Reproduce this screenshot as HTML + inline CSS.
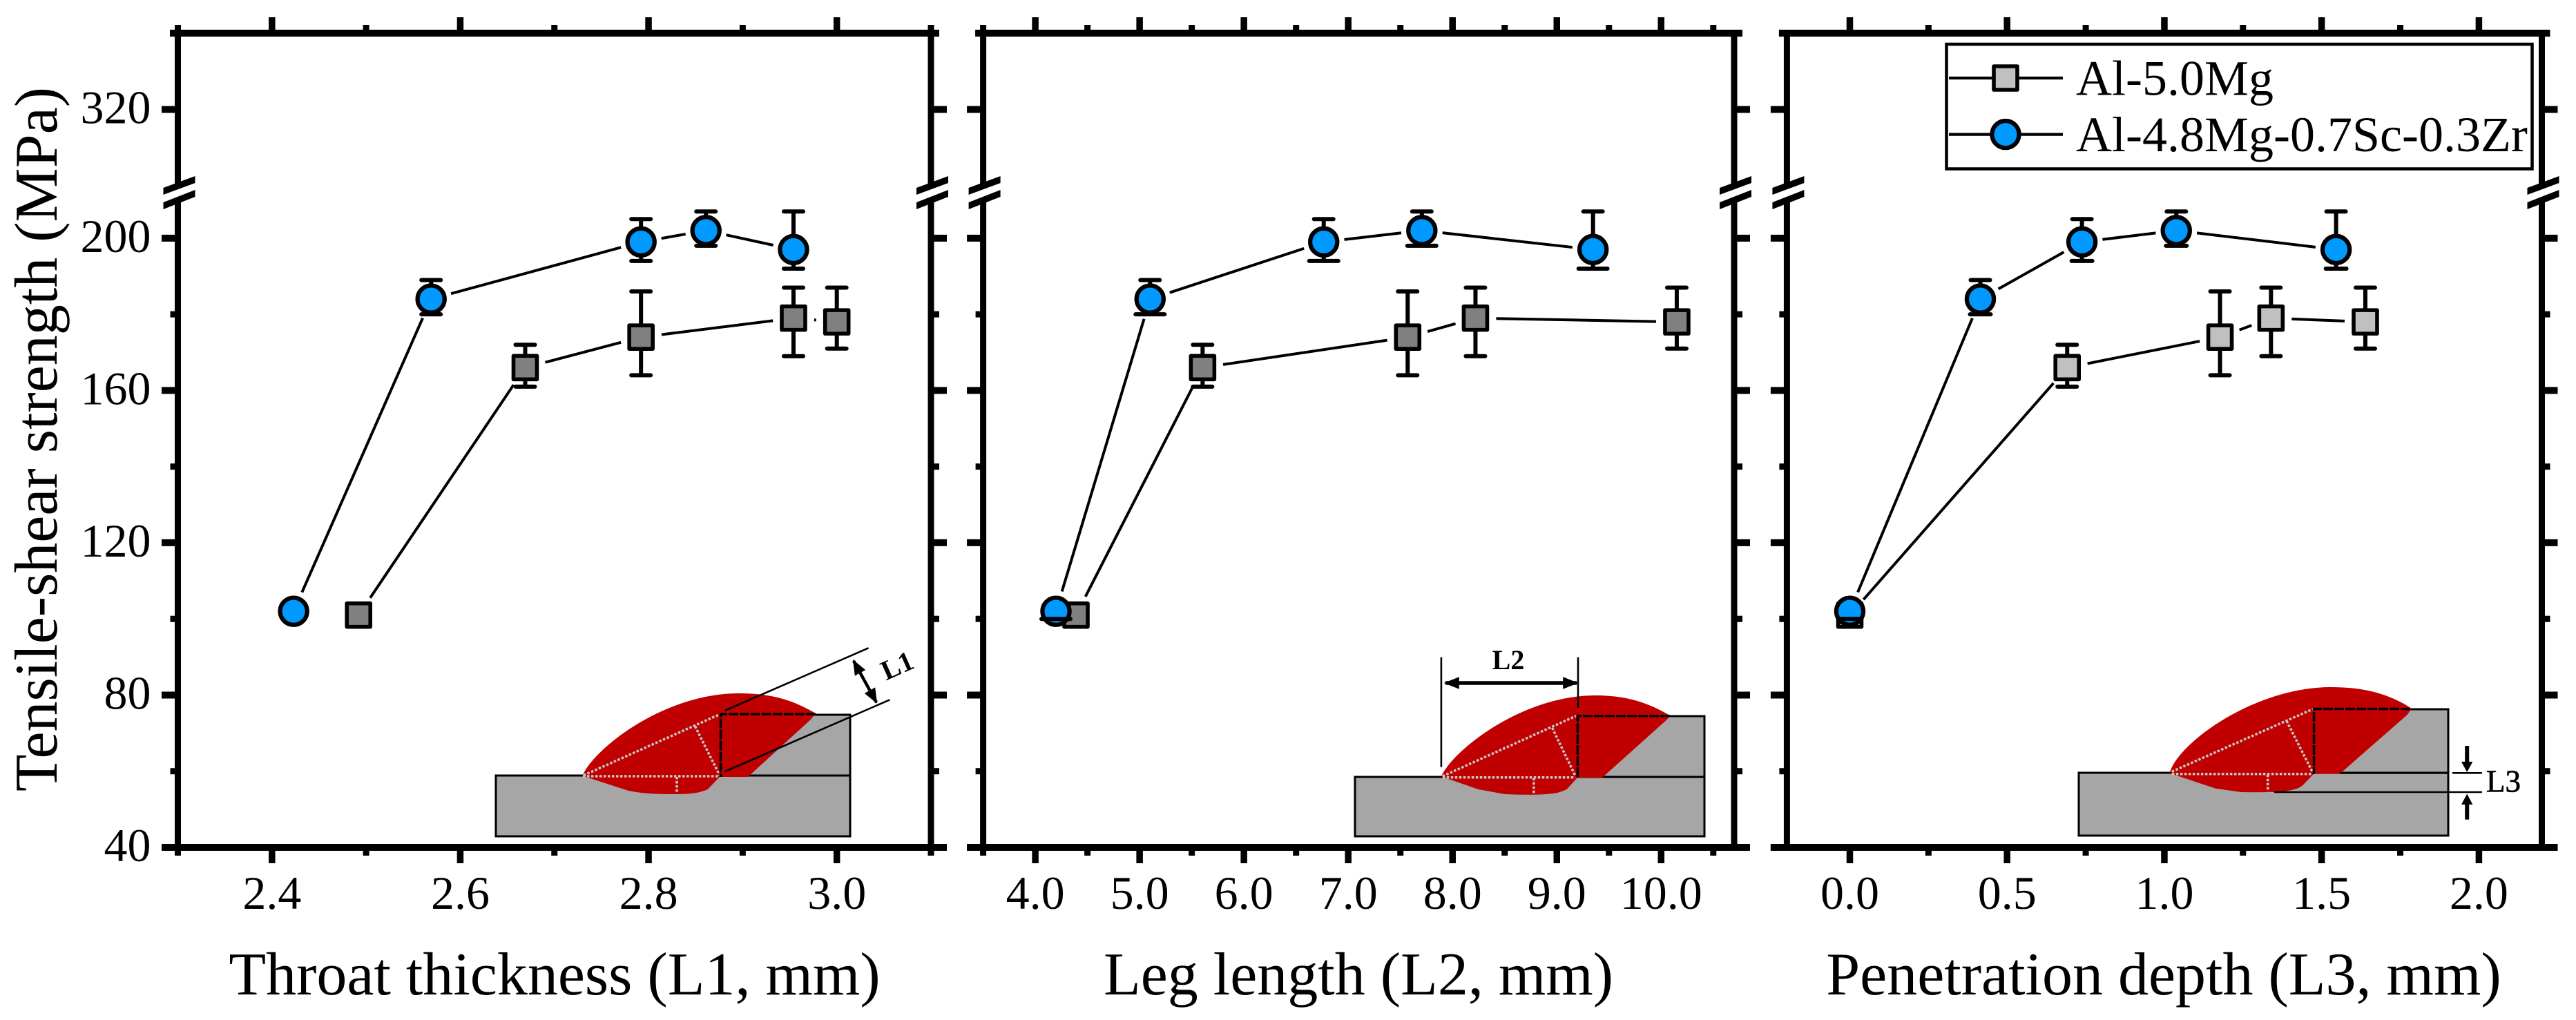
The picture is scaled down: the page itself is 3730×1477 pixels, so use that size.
<!DOCTYPE html>
<html lang="en">
<head>
<meta charset="utf-8">
<title>Tensile-shear strength vs weld geometry</title>
<style>
html,body{margin:0;padding:0;background:#fff;width:3730px;height:1477px;overflow:hidden}
svg{display:block;font-family:"Liberation Serif",serif}
.tick-label{font-size:68px;fill:#000}
.axis-title{font-size:88px;fill:#000}
.legend-text{font-size:72px;fill:#000}
.plate{fill:#A6A6A6;stroke:#000;stroke-width:3}
.weld{fill:#C00000}
.dot{stroke:#C8C8C8;stroke-width:3.5;stroke-dasharray:3.5 2.5;fill:none}
.dash{stroke:#000;stroke-width:3.5;stroke-dasharray:14 2;fill:none}
.thin{stroke:#000;stroke-width:2.6;fill:none}
</style>
</head>
<body>
<svg id="chart" xmlns="http://www.w3.org/2000/svg" width="3730" height="1477" viewBox="0 0 3730 1477">
<defs>
<marker id="head" markerUnits="userSpaceOnUse" markerWidth="22" markerHeight="22" refX="18" refY="8" orient="auto-start-reverse" viewBox="0 0 20 16"><path d="M0 0L20 8L0 16Z" fill="#000"/></marker>
</defs>
<rect x="0" y="0" width="3730" height="1477" fill="#fff"/>
<g id="panels"></g>

<text class="axis-title" transform="translate(82 636) rotate(-90)" text-anchor="middle">Tensile-shear strength (MPa)</text>
<text class="axis-title" x="803" y="1440" text-anchor="middle">Throat thickness (L1, mm)</text>
<text class="axis-title" x="1967" y="1440" text-anchor="middle">Leg length (L2, mm)</text>
<text class="axis-title" x="3133" y="1440" text-anchor="middle">Penetration depth (L3, mm)</text>

<g>
<rect class="plate" x="718" y="1123" width="513" height="88"/>
<rect class="plate" x="1043" y="1035" width="188" height="88"/>
<path class="weld" d="M844 1122 C860 1085 960 1004 1070 1004 C1120 1004 1150 1015 1181 1033 L1174 1041.7 L1083 1125 L1042 1125 L1024.7 1143 Q1018 1146 1009.6 1147.7 Q995 1150 979 1150 Q955 1150 940 1149 Q925 1148 910 1145 L845 1124 Z"/>
<path class="dot" d="M844 1124H1042"/>
<path class="dot" d="M845 1122.7L1043 1034"/>
<path class="dot" d="M1006.5 1051.7L1042 1122.7"/>
<path class="dot" d="M980 1125V1149"/>
<path class="dash" d="M1181 1034H1043.5V1125"/>
<path class="thin" d="M1049.5 1029L1257.6 938.3"/>
<path class="thin" d="M1049.5 1117.3L1288.4 1013.3"/>
<path d="M1236 957L1269 1017" stroke="#000" stroke-width="4.5" fill="none" marker-start="url(#head)" marker-end="url(#head)"/>
<text transform="translate(1304.5 976) rotate(-24)" text-anchor="middle" font-size="40" font-weight="bold">L1</text>
</g>

<g>
<rect class="plate" x="1962" y="1125" width="506" height="86"/>
<rect class="plate" x="2284" y="1037" width="184" height="88"/>
<path class="weld" d="M2087 1124 C2105 1085 2205 1007 2310 1007 C2360 1007 2390 1020 2418 1036 L2414 1041.7 L2320 1126 L2284 1126 L2268.7 1143 Q2262 1146 2255 1148 Q2240 1150.7 2221 1150.7 Q2200 1151 2179 1150 L2140.5 1143 L2094.6 1127 Z"/>
<path class="dot" d="M2088.8 1125.7H2281"/>
<path class="dot" d="M2088.8 1124L2282 1036.7"/>
<path class="dot" d="M2247.6 1054L2281.3 1124"/>
<path class="dot" d="M2220.9 1126.7V1149"/>
<path class="dash" d="M2418 1036.7H2284.4V1126"/>
<path class="thin" d="M2086.9 951.7V1110.7"/>
<path class="thin" d="M2285 951.7V1025"/>
<path d="M2093 989H2283" stroke="#000" stroke-width="5.5" fill="none" marker-start="url(#head)" marker-end="url(#head)"/>
<text x="2184" y="969" text-anchor="middle" font-size="40" font-weight="bold">L2</text>
</g>

<g>
<rect class="plate" x="3010" y="1119" width="535" height="91"/>
<rect class="plate" x="3350" y="1027" width="195" height="92"/>
<path class="weld" d="M3142 1118 C3155 1075 3265 995 3375 995 C3425 995 3460 1005 3492 1026 L3485.7 1035 L3387.8 1120.7 L3350 1120.7 L3334.7 1136.7 Q3330 1141 3322.4 1143 Q3308 1146.7 3294 1146.7 Q3270 1147.5 3245 1147 L3208 1141.7 L3145 1120.7 Z"/>
<path class="dot" d="M3144.9 1120.7H3347"/>
<path class="dot" d="M3144.9 1117.3L3349 1026.7"/>
<path class="dot" d="M3311 1044L3347.8 1116.7"/>
<path class="dot" d="M3283.7 1121.7V1146"/>
<path class="dash" d="M3490 1026.5H3350.5V1120.7"/>
<path d="M3388 1119.3H3545" stroke="#000" stroke-width="3" fill="none"/>
<path class="thin" d="M3551 1119.3H3593.9"/>
<path class="thin" d="M3293 1147H3593.9"/>
<path d="M3572.2 1080V1104" stroke="#000" stroke-width="6" fill="none"/>
<path d="M3564 1103H3580.4L3572.2 1118Z" fill="#000"/>
<path d="M3572.2 1186.7V1162" stroke="#000" stroke-width="6" fill="none"/>
<path d="M3564 1165H3580.4L3572.2 1149.5Z" fill="#000"/>
<text x="3600" y="1146.7" font-size="45" stroke="#000" stroke-width="0.7">L3</text>
</g>

<g>
<rect x="2818.5" y="64" width="848" height="180.5" fill="#fff" stroke="#000" stroke-width="4.5"/>
<path d="M2822 113H2987" stroke="#000" stroke-width="4.2"/>
<rect x="2887" y="96" width="34" height="34" fill="#C0C0C0" stroke="#000" stroke-width="5.6" stroke-linejoin="round"/>
<text class="legend-text" x="3006" y="137.5">Al-5.0Mg</text>
<path d="M2822 194.6H2987" stroke="#000" stroke-width="4.2"/>
<circle cx="2904" cy="194.6" r="19.6" fill="#0099FF" stroke="#000" stroke-width="6.2"/>
<text class="legend-text" x="3006" y="218.8">Al-4.8Mg-0.7Sc-0.3Zr</text>
</g>
</svg>

<script>
// ---- chart data ----
const strengthMg = [101, 166, 174, 179, 178];
const errUpMg = [0, 6, 12, 8, 9];
const errDownMg = [0, 5, 10, 10, 7];
const strengthSc = [102, 184, 199, 202, 197];
const errUpSc = [0, 5, 6, 5, 10];
const errDownSc = [2, 4, 5, 4, 5];
const throatMg = [2.492, 2.669, 2.792, 2.954, 3.0];
const throatSc = [2.423, 2.569, 2.792, 2.861, 2.954];
const legMg = [4.39, 5.604, 7.57, 8.22, 10.15];
const legSc = [4.198, 5.1, 6.765, 7.706, 9.347];
const depthMg = [0.0, 0.691, 1.177, 1.339, 1.639];
const depthSc = [0.0, 0.415, 0.738, 1.038, 1.546];
const yMajorLower = [40, 80, 120, 160, 200];
const yMinorLower = [60, 100, 140, 180];
const yMajorUpper = [320];
const throatTicks = ['2.4', '2.6', '2.8', '3.0'];
const throatMinor = [2.3, 2.5, 2.7, 2.9, 3.1];
const legTicks = ['4.0', '5.0', '6.0', '7.0', '8.0', '9.0', '10.0'];
const legMinor = [3.5, 4.5, 5.5, 6.5, 7.5, 8.5, 9.5, 10.5];
const depthTicks = ['0.0', '0.5', '1.0', '1.5', '2.0'];
const depthMinor = [0.25, 0.75, 1.25, 1.75];

// ---- layout ----
const NS = 'http://www.w3.org/2000/svg';
const TOP = 48, BOTTOM = 1227, BREAK_Y = 279;
const root = document.getElementById('panels');

function yScale(v) {
  if (v >= 300) return BREAK_Y - (v - 300) * 6.025;
  return BOTTOM - (v - 40) * 5.5135;
}
function make(parent, tag, attrs) {
  const el = document.createElementNS(NS, tag);
  for (const k in attrs) el.setAttribute(k, attrs[k]);
  parent.appendChild(el);
  return el;
}
function segment(parent, name, x1, y1, x2, y2, width, cap) {
  const el = make(parent, 'line', {x1: x1, y1: y1, x2: x2, y2: y2, stroke: '#000', 'stroke-width': width, 'stroke-linecap': cap || 'butt'});
  
  
  return el;
}
function breakMark(parent, ax) {
  [[277, 260], [298, 280]].forEach(function (p) {
    const el = make(parent, 'polygon', {
      points: (ax - 21) + ',' + (p[0] - 5) + ' ' + (ax + 25) + ',' + (p[1] - 5) + ' ' + (ax + 25) + ',' + (p[1] + 5) + ' ' + (ax - 21) + ',' + (p[0] + 5),
      fill: '#000'
    });
    
    
  });
}
function drawAxes(g, left, right, xScale, ticks, minors, showY) {
  segment(g, 'top-axis', left - 11.5, TOP, right + 12, TOP, 10);
  segment(g, 'bottom-axis', left - 23.5, BOTTOM, right + 22.5, BOTTOM, 10);
  [left, right].forEach(function (ax) {
    segment(g, 'y-axis-upper-segment', ax, TOP, ax, 269, 9);
    segment(g, 'y-axis-lower-segment', ax, 289, ax, BOTTOM, 9);
    breakMark(g, ax);
  });
  ticks.forEach(function (label) {
    const x = xScale(parseFloat(label));
    segment(g, 'x-major-tick', x, BOTTOM, x, 1250, 9.5);
    segment(g, 'top-major-tick', x, TOP, x, 25, 9.5);
    const t = make(g, 'text', {x: x, y: 1316, 'text-anchor': 'middle', 'class': 'tick-label'});
    
    
    t.textContent = label;
  });
  minors.forEach(function (v) {
    const x = xScale(v);
    segment(g, 'x-minor-tick', x, BOTTOM, x, 1239, 9);
    segment(g, 'top-minor-tick', x, TOP, x, 36, 9);
  });
  yMajorLower.concat(yMajorUpper).forEach(function (v) {
    const y = yScale(v);
    segment(g, 'left-major-tick', left - 23.5, y, left, y, 10);
    segment(g, 'right-major-tick', right, y, right + 23, y, 10);
    if (showY) {
      const t = make(g, 'text', {x: left - 39, y: y + 20, 'text-anchor': 'end', 'class': 'tick-label'});
      
      
      t.textContent = String(v);
    }
  });
  yMinorLower.forEach(function (v) {
    const y = yScale(v);
    segment(g, 'left-minor-tick', left - 11, y, left, y, 9);
    segment(g, 'right-minor-tick', right, y, right + 12, y, 9);
  });
}
function drawSeries(g, xs, ys, ups, downs, xScale, shape, fill, lowerCapWidth, lowerCapOnTop) {
  const GAP = 30;
  for (let i = 0; i < xs.length - 1; i++) {
    const ax = xScale(xs[i]), ay = yScale(ys[i]), bx = xScale(xs[i + 1]), by = yScale(ys[i + 1]);
    const d = Math.hypot(bx - ax, by - ay);
    if (d <= GAP * 2) continue;
    const ux = (bx - ax) / d, uy = (by - ay) / d;
    segment(g, 'series-line-segment', ax + ux * GAP, ay + uy * GAP, bx - ux * GAP, by - uy * GAP, 4);
  }
  const lateCaps = [];
  xs.forEach(function (v, i) {
    const x = xScale(v);
    const top = yScale(ys[i] + ups[i]), bot = yScale(ys[i] - downs[i]);
    if (ups[i] > 0) {
      segment(g, 'error-bar-upper', x, yScale(ys[i]), x, top, 6);
      segment(g, 'error-cap-upper', x - 14, top, x + 14, top, 6, 'round');
    }
    if (downs[i] > 0) {
      segment(g, 'error-bar-lower', x, yScale(ys[i]), x, bot, 6);
      if (lowerCapOnTop) lateCaps.push([x, bot]);
      else segment(g, 'error-cap-lower', x - lowerCapWidth / 2 + 3, bot, x + lowerCapWidth / 2 - 3, bot, 6, 'round');
    }
  });
  xs.forEach(function (v, i) {
    const x = xScale(v), y = yScale(ys[i]);
    let m;
    if (shape === 'square') {
      m = make(g, 'rect', {x: x - 17, y: y - 17, width: 34, height: 34, fill: fill, stroke: '#000', 'stroke-width': 5.6, 'stroke-linejoin': 'round'});
      
      
    } else {
      m = make(g, 'circle', {cx: x, cy: y, r: 19.6, fill: fill, stroke: '#000', 'stroke-width': 6.2});
      
      
    }
  });
  lateCaps.forEach(function (c) {
    segment(g, 'error-cap-lower', c[0] - lowerCapWidth / 2 + 3, c[1], c[0] + lowerCapWidth / 2 - 3, c[1], 6, 'round');
  });
}
function drawPanel(name, left, right, xMin, xMax, ticks, minors, xMg, xSc, mgFill, capSc, capOnTop, showY) {
  const g = make(root, 'g', {});
  
  
  const xScale = function (v) { return left + (v - xMin) / (xMax - xMin) * (right - left); };
  drawAxes(g, left, right, xScale, ticks, minors, showY);
  drawSeries(g, xMg, strengthMg, errUpMg, errDownMg, xScale, 'square', mgFill, 34, false);
  drawSeries(g, xSc, strengthSc, errUpSc, errDownSc, xScale, 'circle', '#0099FF', capSc, capOnTop);
}
drawPanel('panel-throat-thickness', 257.5, 1348, 2.3, 3.1, throatTicks, throatMinor, throatMg, throatSc, '#808080', 34, false, true);
drawPanel('panel-leg-length', 1423.6, 2511, 3.5, 10.7, legTicks, legMinor, legMg, legSc, '#808080', 48, true, false);
drawPanel('panel-penetration-depth', 2587.4, 3680.5, -0.2, 2.2, depthTicks, depthMinor, depthMg, depthSc, '#C0C0C0', 36, true, false);
</script>
</body>
</html>
